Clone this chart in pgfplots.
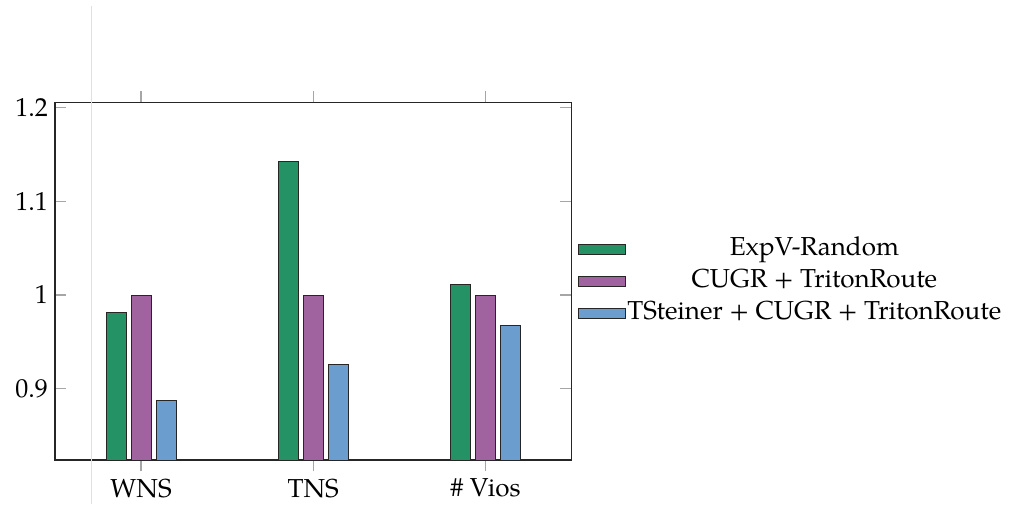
\documentclass[border=0pt]{standalone}
\usepackage{fontspec}
\setmainfont{TeX Gyre Pagella}
\usepackage{pgfplots}
\pgfplotsset{compat=1.18}
\definecolor{cgreen}{RGB}{37,146,101}
\definecolor{cpurple}{RGB}{161,98,160}
\definecolor{cblue}{RGB}{107,157,207}
\begin{document}
\begin{tikzpicture}
\begin{axis}[
  name=ax,
  scale only axis,
  width=258.3pt, height=178.65pt,
  ybar, bar width=10pt, ybar=2.5pt,
  xmin=-0.5, xmax=2.5,
  ymin=0.8242, ymax=1.2049,
  xtick={0,1,2},
  xticklabels={WNS,TNS,\# Vios},
  ytick={0.9,1,1.1,1.2},
  xtick align=outside,
  ytick align=inside,
  major tick length=5.75pt,
  tick style={black!35, line width=0.6pt},
  axis line style={black!85, line width=0.7pt},
  /pgf/number format/assume math mode=true,
  tick label style={font=\fontsize{13}{15}\selectfont},
  legend style={at={(1,0.5)}, anchor=west, draw=none, fill=none,
    font=\fontsize{13}{15}\selectfont,
    nodes={inner xsep=0.75pt, inner ysep=2pt, text height=9pt, text depth=3pt},
    legend cell align=center},
  legend image code/.code={\draw[#1, bar width=0pt] (0pt,-2.5pt) rectangle (23.5pt,2.5pt);},
  every axis plot/.append style={draw=black!85, line width=0.5pt},
]
\addplot[fill=cgreen, draw=black!85] coordinates {(0,0.981) (1,1.142) (2,1.011)};
\addplot[fill=cpurple, draw=black!85] coordinates {(0,1.000) (1,1.000) (2,1.000)};
\addplot[fill=cblue, draw=black!85] coordinates {(0,0.888) (1,0.926) (2,0.967)};
\legend{ExpV-Random, CUGR + TritonRoute, TSteiner + CUGR + TritonRoute}
\end{axis}
\draw[black!12, line width=0.5pt] ([xshift=18.5pt, yshift=-22pt]ax.south west) -- ([xshift=18.5pt, yshift=227pt]ax.south west);
\path ([xshift=-27.5pt, yshift=-22pt]ax.south west) rectangle ([xshift=477pt, yshift=230pt]ax.south west);
\end{tikzpicture}
\end{document}
